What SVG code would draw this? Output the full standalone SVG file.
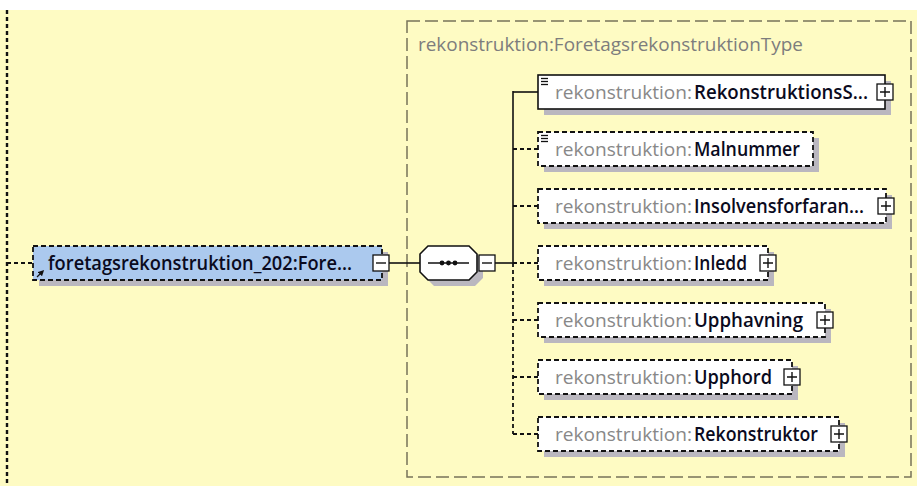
<svg xmlns="http://www.w3.org/2000/svg" width="917" height="486" viewBox="0 0 917 486">
<defs>
<style>
.bg{fill:#FEFBC3}
.typebox{fill:none;stroke:#77735a;stroke-width:1.5;stroke-dasharray:13 5}
.shadow{fill:#bab7bf}
.el{fill:#ffffff;stroke:#111;stroke-width:1.6}
.opt{stroke-dasharray:5 3;stroke-width:1.8}
.btn{fill:#ffffff;stroke:#111;stroke-width:1.3}
.sign{stroke:#111;stroke-width:1.4;fill:none}
.conn{stroke:#111;stroke-width:1.6;fill:none}
.dash{stroke-dasharray:4 3;stroke-width:1.8}
.pre{font-family:"Open Sans","Liberation Sans",sans-serif;font-size:19px;fill:#888888}
.nm{font-family:"Open Sans","Liberation Sans",sans-serif;font-size:19px;font-weight:600;fill:#0a0a20}
.ttl{font-family:"Open Sans","Liberation Sans",sans-serif;font-size:19px;fill:#7d7d7d}
.ico{stroke:#111;stroke-width:1.3}
</style>
<marker id="ah" markerWidth="6" markerHeight="6" refX="3" refY="3" orient="auto" markerUnits="userSpaceOnUse"><path d="M0,0 L6,3 L0,6 z" fill="#111"/></marker>
</defs>
<rect x="0" y="0" width="917" height="486" fill="#ffffff"/>
<rect class="bg" x="0" y="10" width="917" height="476"/>
<line x1="7" y1="10" x2="7" y2="486" stroke="#111" stroke-width="2.4" stroke-dasharray="4 3"/>

<g id="type-box">
<rect class="typebox" x="407" y="21" width="504" height="456"/>
<text class="ttl" x="418" y="51" textLength="385" lengthAdjust="spacingAndGlyphs">rekonstruktion:ForetagsrekonstruktionType</text>
</g>

<g id="connectors">
<line class="conn dash" x1="7" y1="263" x2="33" y2="263"/>
<line class="conn" x1="389" y1="263" x2="420" y2="263"/>
<line class="conn" x1="495" y1="263" x2="513" y2="263"/>
<line class="conn" x1="513" y1="91" x2="513" y2="263"/>
<line class="conn dash" x1="513" y1="263" x2="513" y2="434"/>
<line class="conn" x1="513" y1="92" x2="538" y2="92"/>
<line class="conn dash" x1="513" y1="149" x2="538" y2="149"/>
<line class="conn dash" x1="513" y1="206" x2="538" y2="206"/>
<line class="conn dash" x1="513" y1="263" x2="538" y2="263"/>
<line class="conn dash" x1="513" y1="320" x2="538" y2="320"/>
<line class="conn dash" x1="513" y1="377" x2="538" y2="377"/>
<line class="conn dash" x1="513" y1="434" x2="538" y2="434"/>
</g>

<g id="root-element">
<rect class="shadow" x="39" y="252" width="349" height="34"/>
<rect x="33" y="246" width="349" height="34" fill="#abc9ee" stroke="#111" stroke-width="1.8" stroke-dasharray="5 3"/>
<line class="ico" x1="37" y1="277" x2="42" y2="272" marker-end="url(#ah)"/>
<text class="nm" x="48" y="270" textLength="304" lengthAdjust="spacingAndGlyphs">foretagsrekonstruktion_202:Fore...</text>
<rect class="btn" x="373" y="255" width="16" height="16"/>
<line class="sign" x1="376" y1="263" x2="386" y2="263"/>
</g>

<g id="sequence">
<polygon class="shadow" points="434,252 475,252 483,260 483,278 475,286 434,286 426,278 426,260"/>
<polygon points="428,246 469,246 477,254 477,272 469,280 428,280 420,272 420,254" fill="#ffffff" stroke="#111" stroke-width="1.6"/>
<line x1="428" y1="263" x2="469" y2="263" stroke="#111" stroke-width="1.6"/>
<circle cx="442" cy="263" r="2.4" fill="#111"/>
<circle cx="448.5" cy="263" r="2.4" fill="#111"/>
<circle cx="455" cy="263" r="2.4" fill="#111"/>
<rect class="btn" x="479" y="255" width="16" height="16"/>
<line class="sign" x1="482" y1="263" x2="492" y2="263"/>
</g>

<g id="el-RekonstruktionsS">
<rect class="shadow" x="544" y="81" width="347" height="34"/>
<rect class="el" x="538" y="75" width="347" height="34"/>
<line class="ico" x1="541" y1="78.5" x2="548" y2="78.5"/><line class="ico" x1="541" y1="81.5" x2="548" y2="81.5"/><line class="ico" x1="541" y1="84.5" x2="548" y2="84.5"/>
<text x="555" y="99"><tspan class="pre" textLength="137" lengthAdjust="spacingAndGlyphs">rekonstruktion:</tspan><tspan class="nm" x="694" textLength="174" lengthAdjust="spacingAndGlyphs">RekonstruktionsS...</tspan></text>
<rect class="btn" x="877" y="84" width="16" height="16"/>
<path class="sign" d="M880,92 H890 M885,87 V97"/>
</g>

<g id="el-Malnummer">
<rect class="shadow" x="544" y="138" width="275" height="34"/>
<rect class="el opt" x="538" y="132" width="275" height="34"/>
<line class="ico" x1="541" y1="135.5" x2="548" y2="135.5"/><line class="ico" x1="541" y1="138.5" x2="548" y2="138.5"/><line class="ico" x1="541" y1="141.5" x2="548" y2="141.5"/>
<text x="555" y="156"><tspan class="pre" textLength="137" lengthAdjust="spacingAndGlyphs">rekonstruktion:</tspan><tspan class="nm" x="694" textLength="106" lengthAdjust="spacingAndGlyphs">Malnummer</tspan></text>
</g>

<g id="el-Insolvensforfaran">
<rect class="shadow" x="544" y="195" width="348" height="34"/>
<rect class="el opt" x="538" y="189" width="348" height="34"/>
<text x="555" y="213"><tspan class="pre" textLength="137" lengthAdjust="spacingAndGlyphs">rekonstruktion:</tspan><tspan class="nm" x="694" textLength="170" lengthAdjust="spacingAndGlyphs">Insolvensforfaran...</tspan></text>
<rect class="btn" x="878" y="198" width="16" height="16"/>
<path class="sign" d="M881,206 H891 M886,201 V211"/>
</g>

<g id="el-Inledd">
<rect class="shadow" x="544" y="252" width="230" height="34"/>
<rect class="el opt" x="538" y="246" width="230" height="34"/>
<text x="555" y="270"><tspan class="pre" textLength="137" lengthAdjust="spacingAndGlyphs">rekonstruktion:</tspan><tspan class="nm" x="694" textLength="53" lengthAdjust="spacingAndGlyphs">Inledd</tspan></text>
<rect class="btn" x="760" y="255" width="16" height="16"/>
<path class="sign" d="M763,263 H773 M768,258 V268"/>
</g>

<g id="el-Upphavning">
<rect class="shadow" x="544" y="309" width="287" height="34"/>
<rect class="el opt" x="538" y="303" width="287" height="34"/>
<text x="555" y="327"><tspan class="pre" textLength="137" lengthAdjust="spacingAndGlyphs">rekonstruktion:</tspan><tspan class="nm" x="694" textLength="109" lengthAdjust="spacingAndGlyphs">Upphavning</tspan></text>
<rect class="btn" x="817" y="312" width="16" height="16"/>
<path class="sign" d="M820,320 H830 M825,315 V325"/>
</g>

<g id="el-Upphord">
<rect class="shadow" x="544" y="366" width="254" height="34"/>
<rect class="el opt" x="538" y="360" width="254" height="34"/>
<text x="555" y="384"><tspan class="pre" textLength="137" lengthAdjust="spacingAndGlyphs">rekonstruktion:</tspan><tspan class="nm" x="694" textLength="78" lengthAdjust="spacingAndGlyphs">Upphord</tspan></text>
<rect class="btn" x="784" y="369" width="16" height="16"/>
<path class="sign" d="M787,377 H797 M792,372 V382"/>
</g>

<g id="el-Rekonstruktor">
<rect class="shadow" x="544" y="423" width="301" height="34"/>
<rect class="el opt" x="538" y="417" width="301" height="34"/>
<text x="555" y="441"><tspan class="pre" textLength="137" lengthAdjust="spacingAndGlyphs">rekonstruktion:</tspan><tspan class="nm" x="694" textLength="124" lengthAdjust="spacingAndGlyphs">Rekonstruktor</tspan></text>
<rect class="btn" x="831" y="426" width="16" height="16"/>
<path class="sign" d="M834,434 H844 M839,429 V439"/>
</g>
</svg>
